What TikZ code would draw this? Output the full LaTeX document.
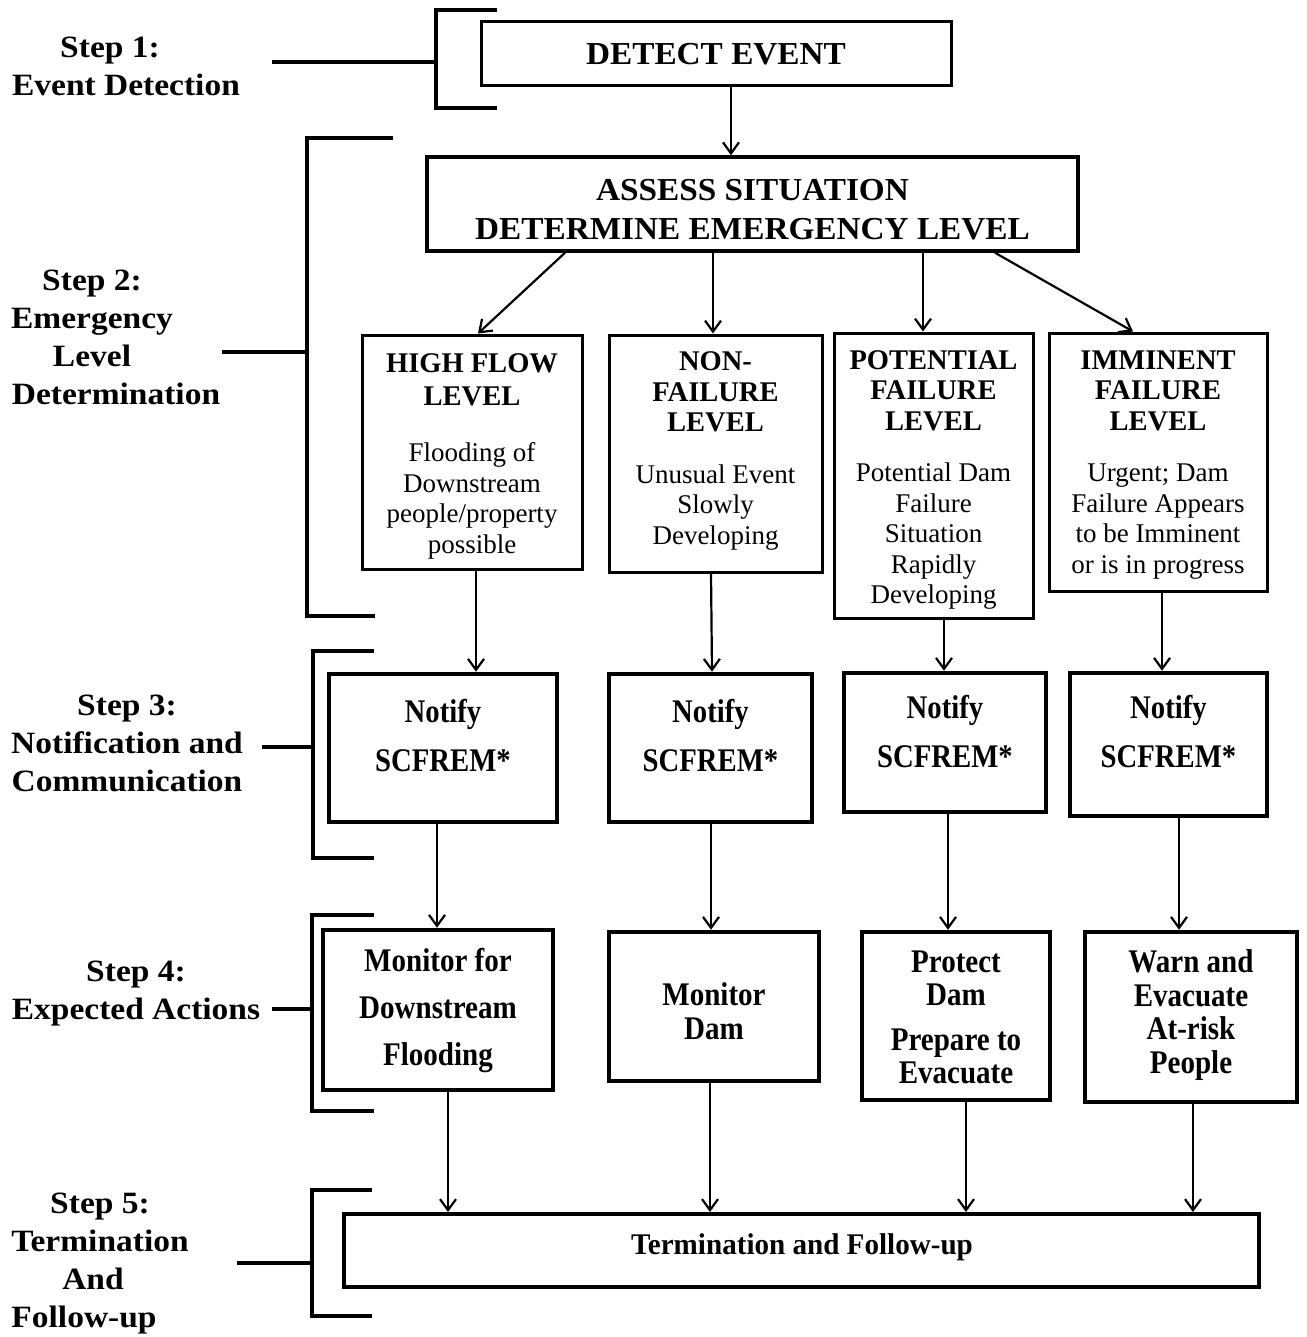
\documentclass[tikz,border=0pt]{standalone}
\usepackage{fontspec}
\setmainfont{Liberation Serif}
\usetikzlibrary{arrows.meta}
\newcommand\lvt[1]{{\fontsize{28.5}{30.5}\selectfont\bfseries #1}}
\begin{document}
\begin{tikzpicture}[x=1pt,y=-1pt,
  box/.style={draw, line width=3pt, inner sep=0pt, align=center},
  heavybox/.style={box, line width=4.5pt},
  arr/.style={line width=2.2pt, -{Straight Barb[length=11pt,width=16pt,line width=2.2pt]}},
  brk/.style={line width=4pt},
  steplbl/.style={align=center, font=\bfseries\fontsize{31}{38}\selectfont\addfontfeature{FakeStretch=1.08}},
  headf/.style={font=\bfseries\fontsize{32}{39}\selectfont\addfontfeature{FakeStretch=1.04}},
  levelf/.style={align=center, font=\fontsize{27}{30.5}\selectfont},
  notf/.style={align=center, font=\bfseries\fontsize{33}{49}\selectfont\addfontfeature{FakeStretch=0.87}},
  actf/.style={align=center, font=\bfseries\fontsize{33}{33.5}\selectfont\addfontfeature{FakeStretch=0.88}},
  termf/.style={font=\bfseries\fontsize{30}{36}\selectfont\addfontfeature{FakeStretch=0.97}}
]
\fill[white] (0,0) rectangle (1306,1337);
\useasboundingbox (0,0) rectangle (1306,1337);

% step labels
\node[steplbl] (s1) at (126,66.5) {\hspace*{-32pt}Step 1:\\Event Detection};
\node[steplbl] (s2) at (92,337) {Step 2:\\Emergency\\Level\\\hspace*{48pt}Determination};
\node[steplbl] (s3) at (127,743) {Step 3:\\Notification and\\Communication};
\node[steplbl] (s4) at (136,993.5) {Step 4:\\Expected Actions};
\node[steplbl] (s5) at (100,1263.5) {Step 5:\\Termination\\\hspace*{-14pt}And\\\hspace*{-32pt}Follow-up};

% brackets
\draw[brk] (497,10) -- (436,10) -- (436,108) -- (497,108);
\draw[brk] (272,62) -- (436,62);
\draw[brk] (393,138) -- (307,138) -- (307,616) -- (375,616);
\draw[brk] (222,352) -- (307,352);
\draw[brk] (374,651) -- (313,651) -- (313,858) -- (374,858);
\draw[brk] (262,747) -- (313,747);
\draw[brk] (374,915) -- (312,915) -- (312,1111) -- (374,1111);
\draw[brk] (272,1009) -- (312,1009);
\draw[brk] (372,1190) -- (312,1190) -- (312,1316) -- (372,1316);
\draw[brk] (237,1263) -- (312,1263);

% top boxes
\node[box, headf, minimum width=470, minimum height=64] (detect) at (716,54) {DETECT EVENT};
\node[box, line width=3.5pt, minimum width=651, minimum height=94, label={[headf, align=center, yshift=-6pt]center:{ASSESS SITUATION\\DETERMINE EMERGENCY LEVEL}}] (assess) at (752.5,204) {};

% level boxes
\node[box, minimum width=220, minimum height=234, label={[levelf, yshift=-4pt]center:{\lvt{HIGH FLOW}\\[2.5pt]\lvt{LEVEL}\\[26pt]Flooding of\\Downstream\\people/property\\possible}}] (hf) at (472,452) {};
\node[box, minimum width=213, minimum height=237, label={[levelf, yshift=2.5pt]center:{\lvt{NON-}\\\lvt{FAILURE}\\\lvt{LEVEL}\\[21pt]Unusual Event\\Slowly\\Developing}}] (nf) at (715.5,453.5) {};
\node[box, minimum width=199, minimum height=285, label={[levelf, yshift=-4.5pt]center:{\lvt{POTENTIAL}\\\lvt{FAILURE}\\\lvt{LEVEL}\\[21pt]Potential Dam\\Failure\\Situation\\Rapidly\\Developing}}] (pf) at (933.5,475.5) {};
\node[box, minimum width=218, minimum height=258, label={[levelf, yshift=-3pt]center:{\lvt{IMMINENT}\\\lvt{FAILURE}\\\lvt{LEVEL}\\[21pt]Urgent; Dam\\Failure Appears\\to be Imminent\\or is in progress}}] (if) at (1158,462) {};

% notify boxes
\node[heavybox, minimum width=228, minimum height=148, label={[notf, yshift=12.5pt]center:{Notify\\SCFREM*}}] (n1) at (443,748) {};
\node[heavybox, minimum width=203, minimum height=148, label={[notf, yshift=12.5pt]center:{Notify\\SCFREM*}}] (n2) at (710.5,748) {};
\node[heavybox, minimum width=202, minimum height=139, label={[notf, yshift=10.5pt]center:{Notify\\SCFREM*}}] (n3) at (945,742.5) {};
\node[heavybox, minimum width=197, minimum height=143, label={[notf, yshift=12.5pt]center:{Notify\\SCFREM*}}] (n4) at (1168.5,744.5) {};

% action boxes
\node[heavybox, minimum width=230, minimum height=160, label={[actf, yshift=-0.5pt]center:{Monitor for\\[13.5pt]Downstream\\[13pt]Flooding}}] (a1) at (438,1010) {};
\node[heavybox, minimum width=210, minimum height=149, label={[actf, yshift=-4.5pt]center:{Monitor\\Dam}}] (a2) at (714,1006.5) {};
\node[heavybox, minimum width=188, minimum height=168, label={[actf, yshift=-1.5pt]center:{Protect\\Dam\\[11pt]Prepare to\\Evacuate}}] (a3) at (956,1016) {};
\node[heavybox, minimum width=212, minimum height=170, label={[actf, yshift=2pt]center:{Warn and\\Evacuate\\At-risk\\People}}] (a4) at (1191,1017) {};

% termination
\node[heavybox, line width=4pt, minimum width=915, minimum height=73, label={[termf, yshift=3.5pt, xshift=0.5pt]center:{Termination and Follow-up}}] (term) at (801.5,1250.5) {};

% connectors
\draw[arr] ([xshift=15pt]detect.south) -- ([xshift=-21.5pt]assess.north);
\draw[arr] ([xshift=-187.5pt]assess.south) -- ([xshift=6pt]hf.north);
\draw[arr] ([xshift=-39.5pt]assess.south) -- ([xshift=-2.5pt]nf.north);
\draw[arr] ([xshift=170.5pt]assess.south) -- ([xshift=-10.5pt]pf.north);
\draw[arr] ([xshift=242.5pt]assess.south) -- ([xshift=-25pt]if.north);

\draw[arr] ([xshift=4pt]hf.south) -- ([xshift=33pt]n1.north);
\draw[arr] ([xshift=-4.5pt]nf.south) -- ([xshift=1.5pt]n2.north);
\draw[arr] ([xshift=10.5pt]pf.south) -- ([xshift=-1pt]n3.north);
\draw[arr] ([xshift=4pt]if.south) -- ([xshift=-6.5pt]n4.north);

\draw[arr] ([xshift=-6pt]n1.south) -- ([xshift=-1pt]a1.north);
\draw[arr] ([xshift=0.5pt]n2.south) -- ([xshift=-3pt]a2.north);
\draw[arr] ([xshift=3pt]n3.south) -- ([xshift=-8pt]a3.north);
\draw[arr] ([xshift=10.5pt]n4.south) -- ([xshift=-12pt]a4.north);

\draw[arr] ([xshift=10pt]a1.south) -- ([xshift=-353.5pt]term.north);
\draw[arr] ([xshift=-4pt]a2.south) -- ([xshift=-91.5pt]term.north);
\draw[arr] ([xshift=10pt]a3.south) -- ([xshift=164.5pt]term.north);
\draw[arr] ([xshift=2pt]a4.south) -- ([xshift=391.5pt]term.north);
\end{tikzpicture}
\end{document}
